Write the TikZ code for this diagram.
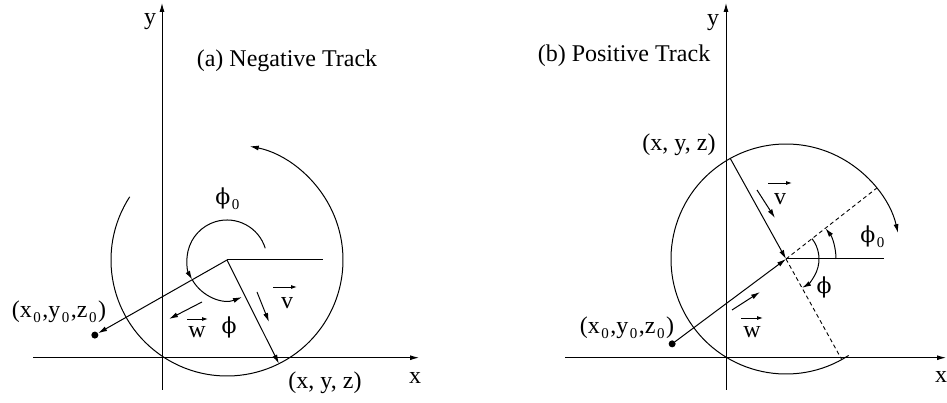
\documentclass[tikz,border=0pt]{standalone}
\usepackage{fontspec}
\setmainfont{Liberation Serif}
\newfontfamily\grkfont{DejaVu Serif}
\usetikzlibrary{arrows.meta,calc}
\newcommand{\zsub}{\kern1.5pt\raisebox{-5pt}{\fontsize{15}{15}\selectfont 0}\kern1.5pt}
\newcommand{\phisym}{{\grkfont\fontsize{22}{26}\selectfont ϕ}}

\begin{document}
\begin{tikzpicture}[x=1pt, y=1pt,
    lbl/.style={inner sep=0pt, font=\fontsize{24}{28}\selectfont},
    ln/.style={line width=1pt},
    arr/.style={ln, -{Latex[length=9pt,width=5pt]}},
    vec/.style={line width=0.9pt, -{Latex[length=6pt,width=4pt]}},
    dsh/.style={line width=0.9pt, dash pattern=on 4pt off 3pt},
    dot/.style={circle, fill, inner sep=0pt, minimum size=7pt}
]
\useasboundingbox (0,0) rectangle (947,403);

% (a) negative track
\coordinate (oa) at (227,143);
\coordinate (yaxa0) at (162,13);
\coordinate (yaxa1) at (162,400);
\coordinate (xaxa0) at (33,45.3);
\coordinate (xaxa1) at (419,45.3);
\coordinate (ha) at (323,143);
\coordinate (pa) at ($(oa)+(296.6:116)$);
\node[dot] (dota) at ($(oa)+(209.6:152)$) {};

\draw[arr] (yaxa0) -- (yaxa1);
\draw[arr] (xaxa0) -- (xaxa1);
\node[lbl] (ylabela) at (150,381) {y};
\node[lbl] (xlabela) at (415,25) {x};
\node[lbl] (titlea) at (287,342) {(a) Negative Track};

\draw[ln] (oa) -- (ha);
\draw[arr] (oa) -- (dota);
\draw[arr] (oa) -- (pa);
\draw[arr] ($(oa)+(147:116)$) arc[start angle=147, end angle=438.7, radius=116];
\draw[arr] ($(oa)+(17:40)$) arc[start angle=17, end angle=209.6, radius=40];
\draw[arr] ($(oa)+(209.6:40)$) arc[start angle=209.6, end angle=292, radius=40];

\coordinate (wa0) at (202,101);
\coordinate (wa1) at (169,84);
\coordinate (va0) at (257,111);
\coordinate (va1) at (269,81);
\draw[arr] (wa0) -- (wa1);
\draw[arr] (va0) -- (va1);
\node[lbl] (wlabela) at (197,71) {w};
\node[lbl] (vlabela) at (287,100) {v};
\draw[vec] (187,84) -- (208,84);
\draw[vec] (273,116) -- (297,116);
\node[lbl] (phia) at (229,76) {\phisym};
\node[lbl] (phiza) at (228,204) {\phisym\zsub};
\node[lbl] (starta) at (59,91) {(x\zsub,y\zsub,z\zsub)};
\node[lbl] (enda) at (325,20) {(x, y, z)};

% (b) positive track
\coordinate (ob) at (786,144);
\coordinate (yaxb0) at (726,13);
\coordinate (yaxb1) at (726,400);
\coordinate (xaxb0) at (565,45.3);
\coordinate (xaxb1) at (946,45.3);
\coordinate (hb) at (884,144);
\coordinate (pb) at ($(ob)+(119:115)$);
\coordinate (qb) at ($(ob)+(-61:115)$);
\coordinate (rb) at ($(ob)+(38:115)$);
\node[dot] (dotb) at ($(ob)+(216.7:142)$) {};

\draw[arr] (yaxb0) -- (yaxb1);
\draw[arr] (xaxb0) -- (xaxb1);
\node[lbl] (ylabelb) at (713,380) {y};
\node[lbl] (xlabelb) at (941,26) {x};
\node[lbl] (titleb) at (624,347) {(b) Positive Track};

\draw[ln] (ob) -- (hb);
\draw[dsh] (ob) -- (qb);
\draw[dsh] (ob) -- (rb);
\draw[arr] (pb) -- (ob);
\draw[arr] (dotb) -- (ob);
\draw[arr] ($(ob)+(-57:115)$) arc[start angle=-57, end angle=-347, radius=115];
\draw[arr] ($(ob)+(0:50)$) arc[start angle=0, end angle=38, radius=50];
\draw[arr] ($(ob)+(38:33)$) arc[start angle=38, end angle=-61, radius=33];

\coordinate (wb0) at (732,93);
\coordinate (wb1) at (760,111);
\coordinate (vb0) at (757,213);
\coordinate (vb1) at (775,185);
\draw[arr] (wb0) -- (wb1);
\draw[arr] (vb0) -- (vb1);
\node[lbl] (wlabelb) at (752,71) {w};
\node[lbl] (vlabelb) at (780,204) {v};
\draw[vec] (741,85) -- (763,85);
\draw[vec] (768,220) -- (792,220);
\node[lbl] (phib) at (824,116) {\phisym};
\node[lbl] (phizb) at (873,166) {\phisym\zsub};
\node[lbl] (startb) at (627,75) {(x\zsub,y\zsub,z\zsub)};
\node[lbl] (endb) at (679,258) {(x, y, z)};
\end{tikzpicture}
\end{document}
